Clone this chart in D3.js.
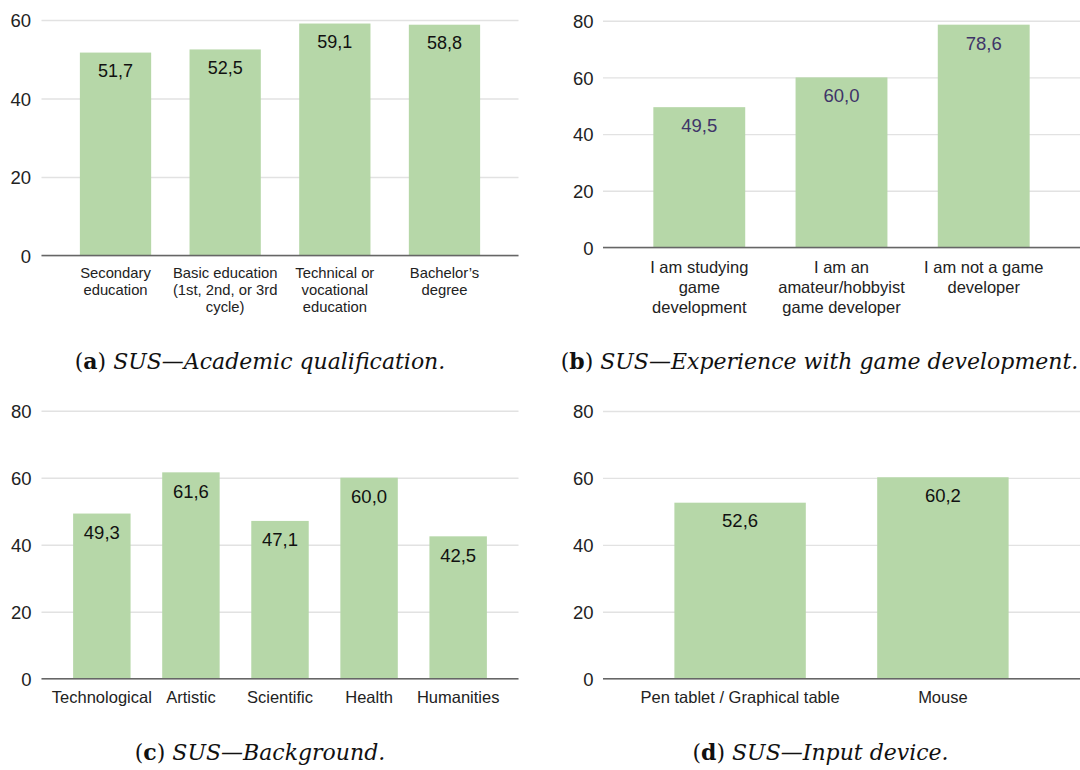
<!DOCTYPE html>
<html>
<head>
<meta charset="utf-8">
<script src="https://cdn.jsdelivr.net/npm/d3@7"></script>
<style>
  html, body { margin: 0; padding: 0; background: #fff; }
  svg { display: block; }
</style>
</head>
<body>
<svg id="fig" width="1080" height="770"></svg>
<script>
// SUS scores by participant group
const qualCategories = [
  ["Secondary", "education"],
  ["Basic education", "(1st, 2nd, or 3rd", "cycle)"],
  ["Technical or", "vocational", "education"],
  ["Bachelor’s", "degree"]
];
const qualValues = [51.7, 52.5, 59.1, 58.8];
const qualTicks = [0, 20, 40, 60];

const devCategories = [
  ["I am studying", "game", "development"],
  ["I am an", "amateur/hobbyist", "game developer"],
  ["I am not a game", "developer"]
];
const devValues = [49.5, 60.0, 78.6];
const devTicks = [0, 20, 40, 60, 80];

const bgCategories = [["Technological"], ["Artistic"], ["Scientific"], ["Health"], ["Humanities"]];
const bgValues = [49.3, 61.6, 47.1, 60.0, 42.5];
const bgTicks = [0, 20, 40, 60, 80];

const deviceCategories = [["Pen tablet / Graphical table"], ["Mouse"]];
const deviceValues = [52.6, 60.2];
const deviceTicks = [0, 20, 40, 60, 80];

const captionLetters = ["a", "b", "c", "d"];
const captionTexts = [
  "SUS—Academic qualification.",
  "SUS—Experience with game development.",
  "SUS—Background.",
  "SUS—Input device."
];

// decimal comma, as in the source tables
const locale = d3.formatLocale({ decimal: ",", thousands: ".", grouping: [3], currency: ["", ""] });
const fmt = locale.format(".1f");

const svg = d3.select("#fig");
const FONT = "'Liberation Sans', Arial, sans-serif";
const BAR = "#b6d7a8";

function panel(opts) {
  const { categories, values, ticks, x0, x1, yTop, yBottom, yMax,
          tickSize, catSize, catGap, catLine, valSize, valColor, valGap, tickRight } = opts;
  const g = svg.append("g");

  const x = d3.scaleBand()
    .domain(categories.map((c, i) => i))
    .range([x0, x1])
    .paddingInner(opts.pad)
    .paddingOuter(opts.pad);
  const y = d3.scaleLinear().domain([0, yMax]).range([yBottom, yTop]);

  // horizontal gridlines + value ticks
  const yAxis = d3.axisLeft(y).tickValues(ticks).tickSize(-(x1 - x0)).tickPadding(0);
  const ya = g.append("g").attr("transform", `translate(${x0},0)`).call(yAxis);
  ya.select(".domain").remove();
  ya.selectAll(".tick line").attr("stroke", "#e2e2e2").attr("stroke-width", 1.4);
  ya.selectAll(".tick text")
    .attr("x", tickRight - x0)
    .attr("dy", "0.36em")
    .attr("fill", "#222")
    .style("font-family", FONT)
    .style("font-size", tickSize + "px");

  // bars
  g.selectAll("rect.bar")
    .data(values)
    .join("rect")
    .attr("class", "bar")
    .attr("x", (d, i) => x(i))
    .attr("width", x.bandwidth())
    .attr("y", d => y(d))
    .attr("height", d => y(0) - y(d))
    .attr("fill", BAR);

  // value labels inside the bars
  g.selectAll("text.val")
    .data(values)
    .join("text")
    .attr("class", "val")
    .attr("x", (d, i) => x(i) + x.bandwidth() / 2)
    .attr("y", d => y(d) + valGap)
    .attr("text-anchor", "middle")
    .attr("fill", valColor)
    .style("font-family", FONT)
    .style("font-size", valSize + "px")
    .text(d => fmt(d));

  // baseline
  g.append("line")
    .attr("x1", x0).attr("x2", x1)
    .attr("y1", y(0)).attr("y2", y(0))
    .attr("stroke", "#666").attr("stroke-width", 1.4);

  // category labels, wrapped over several lines
  const cats = g.selectAll("text.cat")
    .data(categories)
    .join("text")
    .attr("class", "cat")
    .attr("text-anchor", "middle")
    .attr("fill", "#222")
    .style("font-family", FONT)
    .style("font-size", catSize + "px");
  cats.each(function(lines, i) {
    d3.select(this).selectAll("tspan")
      .data(lines)
      .join("tspan")
      .attr("x", x(i) + x.bandwidth() / 2)
      .attr("y", (l, j) => y(0) + catGap + j * catLine)
      .text(l => l);
  });
}

panel({ categories: qualCategories, values: qualValues, ticks: qualTicks,
  x0: 41.5, x1: 518.5, yTop: 20, yBottom: 255.5, yMax: 60, pad: 0.35,
  tickSize: 18.5, tickRight: 31, catSize: 14.8, catGap: 22, catLine: 17,
  valSize: 18, valColor: "#111", valGap: 24.5 });

panel({ categories: devCategories, values: devValues, ticks: devTicks,
  x0: 603, x1: 1080, yTop: 20.7, yBottom: 247.5, yMax: 80, pad: 0.354,
  tickSize: 18.5, tickRight: 593.5, catSize: 16.5, catGap: 25, catLine: 20,
  valSize: 18.5, valColor: "#3f3468", valGap: 25 });

panel({ categories: bgCategories, values: bgValues, ticks: bgTicks,
  x0: 41.5, x1: 518.5, yTop: 410.7, yBottom: 678.7, yMax: 80, pad: 0.355,
  tickSize: 18.5, tickRight: 31.5, catSize: 16.5, catGap: 24.6, catLine: 20,
  valSize: 18.5, valColor: "#111", valGap: 25.5 });

panel({ categories: deviceCategories, values: deviceValues, ticks: deviceTicks,
  x0: 603, x1: 1080, yTop: 411, yBottom: 678.7, yMax: 80, pad: 0.352,
  tickSize: 18.5, tickRight: 593.5, catSize: 16.5, catGap: 24.6, catLine: 20,
  valSize: 18.5, valColor: "#111", valGap: 24.8 });

// sub-figure captions
const captionPos = [[260, 369], [819.5, 369], [260, 760], [820.5, 760]];
const CAPFONT = "'DejaVu Serif', 'Liberation Serif', serif";
captionTexts.forEach((t, i) => {
  const cap = svg.append("text")
    .attr("x", captionPos[i][0])
    .attr("y", captionPos[i][1])
    .attr("text-anchor", "middle")
    .attr("fill", "#111")
    .style("font-family", CAPFONT)
    .style("font-size", "22px");
  cap.append("tspan").text("(");
  cap.append("tspan").style("font-weight", "bold").text(captionLetters[i]);
  cap.append("tspan").text(") ");
  cap.append("tspan").style("font-style", "italic").text(t);
});
</script>
</body>
</html>
